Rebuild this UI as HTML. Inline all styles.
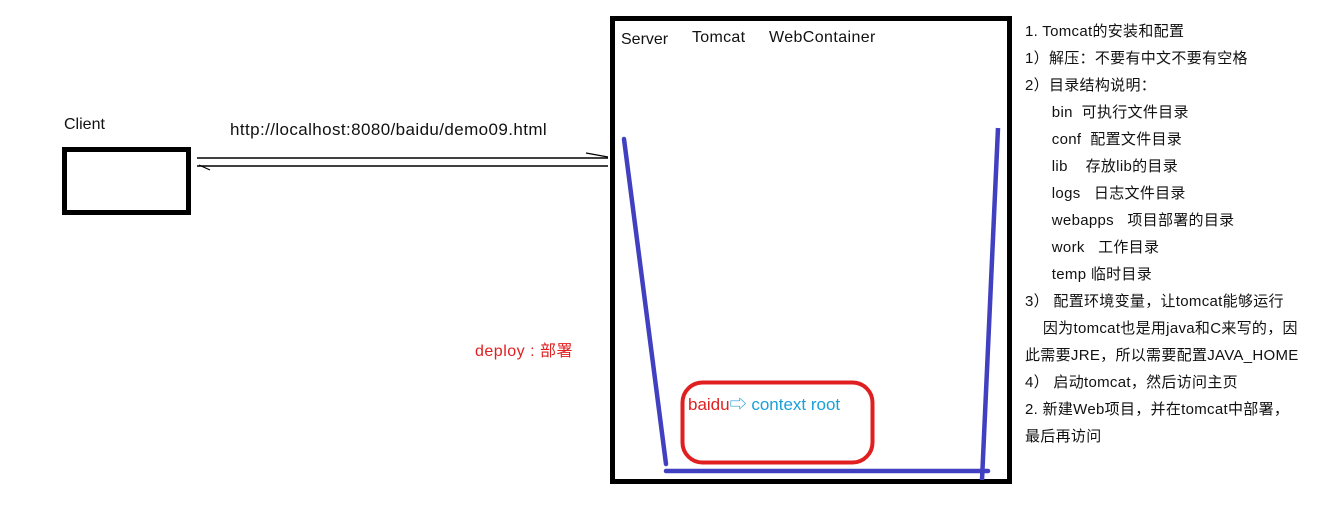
<!DOCTYPE html>
<html><head><meta charset="utf-8"><style>
html,body{margin:0;padding:0;background:#fff;}
body{width:1327px;height:513px;position:relative;overflow:hidden;font-family:"Liberation Sans","Noto Sans CJK SC",sans-serif;}
.t{position:absolute;font-size:16px;color:#111;white-space:nowrap;}
.r{position:absolute;left:1025px;font-size:15px;color:#111;white-space:nowrap;line-height:27px;letter-spacing:0.3px;}
</style></head><body>
<svg width="1327" height="513" style="position:absolute;left:0;top:0">
<rect x="64.5" y="149.5" width="124" height="63" fill="none" stroke="#000" stroke-width="5"/>
<line x1="197" y1="158" x2="608" y2="158" stroke="#000" stroke-width="1.5"/>
<line x1="586" y1="153" x2="608" y2="157" stroke="#000" stroke-width="1.2"/>
<line x1="197" y1="166" x2="608" y2="166" stroke="#000" stroke-width="1.5"/>
<line x1="199" y1="165" x2="210" y2="170" stroke="#000" stroke-width="1.2"/>
<rect x="612.5" y="18.5" width="397" height="463" fill="none" stroke="#000" stroke-width="5"/>
<line x1="624" y1="139" x2="666" y2="464" stroke="#4040c0" stroke-width="4.5" stroke-linecap="round"/>
<line x1="998" y1="128" x2="982" y2="480" stroke="#4040c0" stroke-width="4.5"/>
<line x1="666" y1="471" x2="988" y2="471" stroke="#4040c0" stroke-width="4.5" stroke-linecap="round"/>
<rect x="682.5" y="382.5" width="190" height="80" rx="20" fill="none" stroke="#e02020" stroke-width="4"/>
</svg>
<div class="t" style="left:64px;top:116px">Client</div>
<div class="t" style="left:230px;top:120px;font-size:17px;letter-spacing:0.4px">http://localhost:8080/baidu/demo09.html</div>
<div class="t" style="left:621px;top:31px">Server</div>
<div class="t" style="left:692px;top:29px;letter-spacing:0.3px">Tomcat</div>
<div class="t" style="left:769px;top:29px;letter-spacing:0.4px">WebContainer</div>
<div class="t" style="left:475px;top:337px;color:#e02020;letter-spacing:0.5px">deploy : 部署</div>
<div class="t" style="left:688px;top:390px;font-size:17px"><span style="color:#e02020">baidu</span><span style="color:#1aa0d8">⇨ context root</span></div>
<div class="r" style="top:18px">1. Tomcat的安装和配置<br>1）解压：不要有中文不要有空格<br>2）目录结构说明：<br>&nbsp;&nbsp;&nbsp;&nbsp;&nbsp;&nbsp;bin &nbsp;可执行文件目录<br>&nbsp;&nbsp;&nbsp;&nbsp;&nbsp;&nbsp;conf &nbsp;配置文件目录<br>&nbsp;&nbsp;&nbsp;&nbsp;&nbsp;&nbsp;lib &nbsp;&nbsp;&nbsp;存放lib的目录<br>&nbsp;&nbsp;&nbsp;&nbsp;&nbsp;&nbsp;logs &nbsp;&nbsp;日志文件目录<br>&nbsp;&nbsp;&nbsp;&nbsp;&nbsp;&nbsp;webapps &nbsp;&nbsp;项目部署的目录<br>&nbsp;&nbsp;&nbsp;&nbsp;&nbsp;&nbsp;work &nbsp;&nbsp;工作目录<br>&nbsp;&nbsp;&nbsp;&nbsp;&nbsp;&nbsp;temp 临时目录<br>3） 配置环境变量，让tomcat能够运行<br>&nbsp;&nbsp;&nbsp;&nbsp;因为tomcat也是用java和C来写的，因<br>此需要JRE，所以需要配置JAVA_HOME<br>4） 启动tomcat，然后访问主页<br>2. 新建Web项目，并在tomcat中部署，<br>最后再访问</div>
</body></html>
